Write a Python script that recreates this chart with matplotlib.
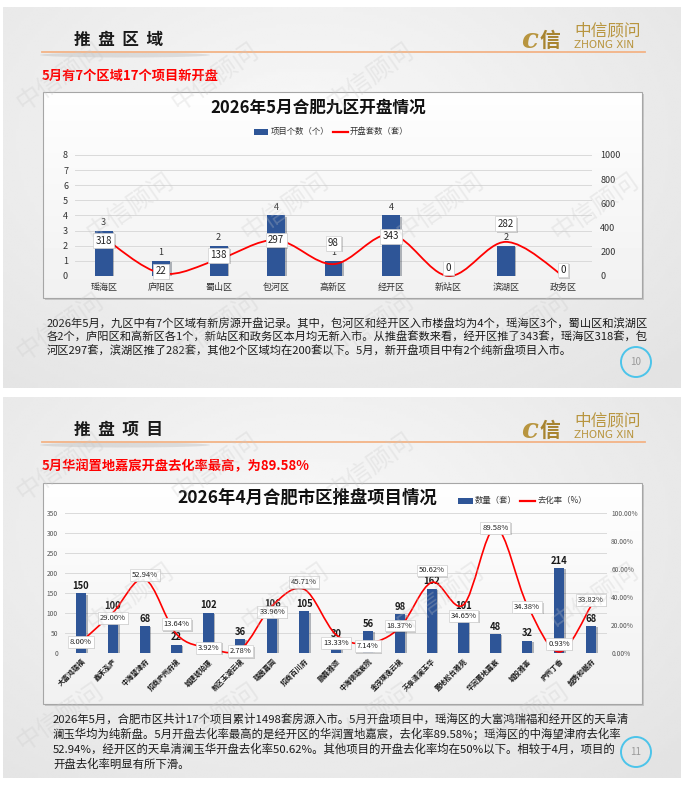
import numpy as np
import matplotlib
matplotlib.use('Agg')
import matplotlib.pyplot as plt
from matplotlib.path import Path
from matplotlib.patches import PathPatch, Rectangle, Circle, Ellipse
import matplotlib.patheffects as pe

plt.rcParams['font.family'] = ['Noto Sans CJK SC', 'DejaVu Sans']

W, H = 695, 786

# ---- slide 1 data: 2026年5月合肥九区开盘情况
districts = ['瑶海区', '庐阳区', '蜀山区', '包河区', '高新区', '经开区', '新站区', '滨湖区', '政务区']
project_counts = [3, 1, 2, 4, 1, 4, 0, 2, 0]
units_opened = [318, 22, 138, 297, 98, 343, 0, 282, 0]

# ---- slide 2 data: 2026年4月合肥市区推盘项目情况
projects = ['大富鸿瑞福', '鑫禾泓庐', '中海望津府', '招商庐州府境', '城建琥珀璟', '新区玉湖云境',
            '瑞茵嘉园', '招商百川府', '鹏磊雅颂', '中海锦瑞宸院', '金茂璞逸云境', '天阜清澜玉华',
            '置地松台雅苑', '华润置地嘉宸', '城投雅荟', '庐州丁香', '越秀和樾府']
project_units = [150, 100, 68, 22, 102, 36, 106, 105, 30, 56, 98, 162, 101, 48, 32, 214, 68]
sell_rate = [8.00, 29.00, 52.94, 13.64, 3.92, 2.78, 33.96, 45.71, 13.33, 7.14, 18.37,
             50.62, 34.65, 89.58, 34.38, 0.93, 33.82]

# label nudges in pixels (up is positive)
units_nudge = [-3, 2, 4, 0, 21, -2, 8, 18, 6]
rate_nudge = [0, -5, 4, 10, 0, -2, -6, 7, -8, -3, 2, 12, -11, 0, -2, 8, 6]

BLUE = '#2e5597'
RED = '#ff0000'
PX = 0.72  # points per pixel at dpi 100

para1 = ['2026年5月，九区中有7个区域有新房源开盘记录。其中，包河区和经开区入市楼盘均为4个，瑶海区3个，蜀山区和滨湖区',
         '各2个，庐阳区和高新区各1个，新站区和政务区本月均无新入市。从推盘套数来看，经开区推了343套，瑶海区318套，包',
         '河区297套，滨湖区推了282套，其他2个区域均在200套以下。5月，新开盘项目中有2个纯新盘项目入市。']
para2 = ['2026年5月，合肥市区共计17个项目累计1498套房源入市。5月开盘项目中，瑶海区的大富鸿瑞福和经开区的天阜清',
         '澜玉华均为纯新盘。5月开盘去化率最高的是经开区的华润置地嘉宸，去化率89.58%；瑶海区的中海望津府去化率',
         '52.94%，经开区的天阜清澜玉华开盘去化率50.62%。其他项目的开盘去化率均在50%以下。相较于4月，项目的',
         '开盘去化率明显有所下滑。']


def smooth_path(xs, ys):
    pts = np.column_stack([xs, ys]).astype(float)
    n = len(pts)
    verts = [pts[0]]
    codes = [Path.MOVETO]
    for i in range(n - 1):
        p0 = pts[i - 1] if i > 0 else pts[i]
        p1, p2 = pts[i], pts[i + 1]
        p3 = pts[i + 2] if i + 2 < n else pts[i + 1]
        verts += [p1 + (p2 - p0) / 6, p2 - (p3 - p1) / 6, p2]
        codes += [Path.CURVE4] * 3
    return Path(verts, codes)


def px_axes(x0, y0, x1, y1):
    return fig.add_axes([x0 / W, 1 - y1 / H, (x1 - x0) / W, (y1 - y0) / H], zorder=3)


fig = plt.figure(figsize=(W / 100, H / 100), dpi=100)
fig.patch.set_facecolor('white')
bg = fig.add_axes([0, 0, 1, 1], zorder=0)
bg.axis('off')

yy, xx = np.mgrid[0:1:120j, 0:1:240j]
shade = 0.975 - 0.085 * np.sqrt(((xx - 0.45) / 0.75) ** 2 + ((yy - 0.35) / 0.9) ** 2)

box_y = np.linspace(0, 1, 60)[:, None] * np.ones((1, 10))
box_shade = 0.995 - 0.05 * box_y


def draw_slide(y0, header, subtitle, page):
    bg.imshow(shade, cmap='gray', vmin=0, vmax=1, extent=(3, 681, y0 + 381, y0),
              aspect='auto', interpolation='bilinear', zorder=0)
    bg.text(74, y0 + 33, header, fontsize=12, fontweight='bold', color='#1a1a1a', va='center')
    bg.add_patch(Ellipse((125, y0 + 48), 170, 5, fc='#9a9a9a', ec='none', alpha=0.25, zorder=1))
    bg.plot([42, 645], [y0 + 45, y0 + 45], color='#f3b386', lw=1.3, zorder=2)
    # logo
    bg.text(521, y0 + 33, 'c', fontsize=20, fontstyle='italic', fontweight='bold',
            color='#b8953f', va='center', family='DejaVu Serif')
    bg.text(540, y0 + 33, '信', fontsize=15, fontweight='bold', color='#a8842f', va='center')
    bg.text(574, y0 + 24, '中信顾问', fontsize=12, color='#b8953f', va='center')
    bg.text(574, y0 + 38, 'ZHONG XIN', fontsize=7.5, color='#b8953f', va='center',
            family='DejaVu Sans')
    bg.text(42, y0 + 69, subtitle, fontsize=9.5, fontweight='bold', color=RED, va='center')
    bg.add_patch(Circle((636, y0 + 355), 15, fc='none', ec='#4cc4ea', lw=1.4, zorder=2))
    bg.text(636, y0 + 355, page, fontsize=7, color='#9a9a9a', ha='center', va='center')


def draw_box(x0, y0, x1, y1):
    bg.add_patch(Rectangle((x0 + 2, y0 + 2), x1 - x0, y1 - y0, fc='#9c9c9c', ec='none',
                           alpha=0.45, zorder=1))
    bg.imshow(box_shade, cmap='gray', vmin=0, vmax=1, extent=(x0, x1, y1, y0),
              aspect='auto', interpolation='bilinear', zorder=1.5)
    bg.add_patch(Rectangle((x0, y0), x1 - x0, y1 - y0, fc='none', ec='#a6a6a6', lw=0.8, zorder=2))


draw_slide(7, '推  盘  区  域', '5月有7个区域17个项目新开盘', '10')
draw_slide(397, '推  盘  项  目', '5月华润置地嘉宸开盘去化率最高，为89.58%', '11')
draw_box(43, 92, 642, 298)
draw_box(43, 483, 642, 704)

for i, line in enumerate(para1):
    bg.text(47, 324 + i * 13.5, line, fontsize=8.1, color='#1a1a1a', va='center')
for i, line in enumerate(para2):
    bg.text(53, 719 + i * 15, line, fontsize=8.2, color='#1a1a1a', va='center')

# ---------------- chart 1 ----------------
bg.text(318, 108, '2026年5月合肥九区开盘情况', fontsize=12, fontweight='bold', color='#111111',
        ha='center', va='center', zorder=3)
bg.add_patch(Rectangle((254, 129), 14, 5.5, fc=BLUE, ec='none', zorder=3))
bg.text(271, 131.5, '项目个数（个）', fontsize=6, color='#333333', va='center', zorder=3)
bg.plot([333, 348], [131.5, 131.5], color=RED, lw=1.6, zorder=3)
bg.text(350, 131.5, '开盘套数（套）', fontsize=6, color='#333333', va='center', zorder=3)

ax1 = px_axes(75, 155, 592, 276)
ax1.set_facecolor('none')
x1 = np.arange(len(districts))
ax1.bar(x1, project_counts, width=0.31, color=BLUE, zorder=2,
        path_effects=[pe.SimplePatchShadow(offset=(1.2, -1), alpha=0.3), pe.Normal()])
ax1.set_xlim(-0.5, len(districts) - 0.5)
ax1.set_ylim(0, 8)
ax1.set_yticks(range(0, 9))
ax1.grid(axis='y', color='#dadada', lw=0.7, zorder=0)
ax1.set_xticks(x1)
ax1.set_xticklabels(districts)
ax1.tick_params(axis='x', length=0, labelsize=6.5, pad=5, labelcolor='#333333')
ax1.tick_params(axis='y', length=0, labelsize=6.5, pad=5, labelcolor='#333333')
for s in ax1.spines.values():
    s.set_visible(False)
for xi, v in zip(x1, project_counts):
    if v == 0:
        continue  # hidden behind the 0-unit label in the original
    ax1.annotate(str(v), (xi, v), xytext=(0, 8 * PX), textcoords='offset points',
                 ha='center', va='center', fontsize=6.5, color='#333333', zorder=4)

ax1b = ax1.twinx()
ax1b.set_ylim(0, 1000)
ax1b.set_yticks(range(0, 1001, 200))
ax1b.tick_params(axis='y', length=0, labelsize=6.5, pad=6, labelcolor='#333333')
for s in ax1b.spines.values():
    s.set_visible(False)
ax1b.add_patch(PathPatch(smooth_path(x1, units_opened), fc='none', ec=RED, lw=1.3,
                         clip_on=False, zorder=3))
for xi, v, dy in zip(x1, units_opened, units_nudge):
    t = ax1b.annotate(str(v), (xi, v), xytext=(0, dy * PX), textcoords='offset points',
                      ha='center', va='center', fontsize=7, color='#222222', zorder=5,
                      bbox=dict(boxstyle='square,pad=0.25', fc='white', ec='#d0d0d0', lw=0.5))
    t.get_bbox_patch().set_path_effects([pe.SimplePatchShadow(offset=(1, -1), alpha=0.25),
                                         pe.Normal()])

# ---------------- chart 2 ----------------
bg.text(307, 498, '2026年4月合肥市区推盘项目情况', fontsize=12.5, fontweight='bold',
        color='#111111', ha='center', va='center', zorder=3)
bg.add_patch(Rectangle((458, 498), 15, 5.5, fc=BLUE, ec='none', zorder=3))
bg.text(475, 500.7, '数量（套）', fontsize=6, color='#333333', va='center', zorder=3)
bg.plot([520, 535], [500.7, 500.7], color=RED, lw=1.6, zorder=3)
bg.text(538, 500.7, '去化率（%）', fontsize=6, color='#333333', va='center', zorder=3)

ax2 = px_axes(65, 513.3, 607, 653.3)
ax2.set_facecolor('none')
x2 = np.arange(len(projects))
ax2.bar(x2, project_units, width=0.32, color=BLUE, zorder=2,
        path_effects=[pe.SimplePatchShadow(offset=(1.2, -1), alpha=0.3), pe.Normal()])
ax2.set_xlim(-0.5, len(projects) - 0.5)
ax2.set_ylim(0, 350)
ax2.set_yticks(range(0, 351, 50))
ax2.grid(axis='y', color='#dadada', lw=0.7, zorder=0)
ax2.set_xticks(x2)
ax2.set_xticklabels(projects, rotation=45, ha='right', va='top', rotation_mode='anchor')
ax2.tick_params(axis='x', length=0, labelsize=5, pad=3, labelcolor='#1a1a1a')
ax2.tick_params(axis='y', length=0, labelsize=4.8, pad=5, labelcolor='#555555')
for lab in ax2.get_xticklabels():
    lab.set_fontweight('bold')
for s in ax2.spines.values():
    s.set_visible(False)
for xi, v in zip(x2, project_units):
    ax2.annotate(str(v), (xi, v), xytext=(0, 7 * PX), textcoords='offset points',
                 ha='center', va='center', fontsize=6.8, fontweight='bold', color='#1a1a1a', zorder=4)

ax2b = ax2.twinx()
ax2b.set_ylim(0, 100)
ax2b.set_yticks(range(0, 101, 20))
ax2b.set_yticklabels([f'{v:.2f}%' for v in range(0, 101, 20)])
ax2b.tick_params(axis='y', length=0, labelsize=4.8, pad=3, labelcolor='#555555')
for s in ax2b.spines.values():
    s.set_visible(False)
ax2b.add_patch(PathPatch(smooth_path(x2, sell_rate), fc='none', ec=RED, lw=1.2,
                         clip_on=False, zorder=3))
for xi, v, dy in zip(x2, sell_rate, rate_nudge):
    t = ax2b.annotate(f'{v:.2f}%', (xi, v), xytext=(0, dy * PX), textcoords='offset points',
                      ha='center', va='center', fontsize=5.5, color='#222222', zorder=5,
                      bbox=dict(boxstyle='square,pad=0.25', fc='white', ec='#d0d0d0', lw=0.5))
    t.get_bbox_patch().set_path_effects([pe.SimplePatchShadow(offset=(1, -1), alpha=0.25),
                                         pe.Normal()])

# faint watermark, kept inside the slides
for y0 in (7, 397):
    for row, yy_ in enumerate((70, 200, 320)):
        for xx_ in (60, 215, 370, 525):
            xw = xx_ + (70 if row == 1 else 0)
            if row == 0 and xx_ == 525:
                continue
            fig.text(xw / W, 1 - (y0 + yy_) / H, '中信顾问', fontsize=18, rotation=35,
                     color='#c8c8c8', alpha=0.28, ha='center', va='center', zorder=10)

bg.set_xlim(0, W)
bg.set_ylim(H, 0)

fig.savefig('out.png', dpi=100)
